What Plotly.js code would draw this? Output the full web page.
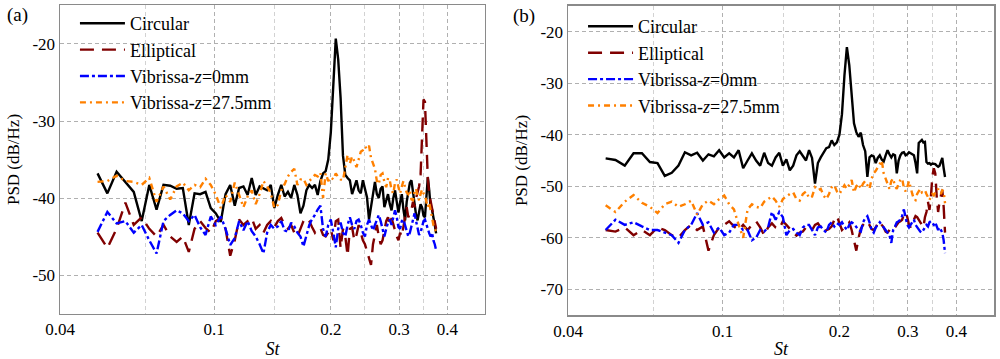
<!DOCTYPE html>
<html>
<head>
<meta charset="utf-8">
<script src="https://cdn.plot.ly/plotly-3.0.1.min.js"></script>
<style>html,body{margin:0;padding:0;background:#fff;}#chart{width:1000px;height:359px;}</style>
</head>
<body>
<div id="chart"></div>
<script>
// Strouhal number samples (shared by both panels)
const st = [
0.050,0.053,0.056,0.059,0.062,0.065,0.068,0.071,0.074,0.077,
0.080,0.083,0.086,0.089,0.092,0.095,0.098,0.101,0.104,0.107,
0.110,0.113,0.116,0.119,0.122,0.125,0.128,0.131,0.134,0.137,
0.140,0.143,0.146,0.149,0.152,0.155,0.158,0.161,0.164,0.167,
0.170,0.173,0.176,0.179,0.182,0.185,0.188,0.191,0.194,0.197,
0.200,0.203,0.206,0.209,0.212,0.215,0.218,0.221,0.224,0.227,
0.230,0.233,0.236,0.239,0.242,0.245,0.248,0.251,0.254,0.257,
0.260,0.263,0.266,0.269,0.272,0.275,0.278,0.281,0.284,0.287,
0.290,0.293,0.296,0.299,0.302,0.305,0.308,0.311,0.314,0.317,
0.320,0.323,0.326,0.329,0.332,0.335,0.338,0.341,0.344,0.347,
0.350,0.353,0.356,0.359,0.362,0.365,0.368,0.371,0.374];

const seriesNames = ['Circular','Elliptical','Vibrissa-<i>z</i>=0mm','Vibrissa-<i>z</i>=27.5mm'];

// Panel (a) PSD, dB/Hz
const circA = [
-36.8,-39.4,-36.6,-38.0,-39.2,-43.0,-38.3,-41.5,-38.3,-38.4,
-38.8,-38.7,-43.5,-39.4,-39.5,-39.2,-41.3,-42.0,-43.1,-39.5,
-38.3,-41.0,-38.7,-38.5,-39.6,-37.4,-39.6,-38.5,-38.8,-39.0,
-38.3,-41.3,-39.6,-38.3,-39.8,-39.2,-40.0,-38.3,-39.6,-42.0,
-41.0,-39.0,-38.3,-38.7,-38.3,-39.6,-37.8,-36.8,-36.5,-35.0,
-31.5,-24.5,-19.3,-22.0,-27.0,-34.5,-37.0,-37.4,-37.7,-39.5,
-38.5,-37.7,-39.0,-39.4,-37.7,-38.8,-39.9,-42.8,-41.0,-39.0,
-37.9,-39.5,-40.0,-38.8,-38.5,-41.2,-40.2,-39.5,-40.8,-41.6,
-40.0,-39.0,-40.5,-41.9,-40.5,-39.5,-41.5,-42.9,-40.5,-39.2,
-38.0,-37.7,-39.5,-41.2,-42.2,-42.9,-41.5,-40.8,-41.2,-42.3,
-42.5,-40.0,-37.3,-39.0,-41.2,-41.5,-42.8,-43.5,-44.6];
const ellA = [
-44.5,-46.5,-44.0,-40.6,-43.5,-42.5,-44.0,-45.0,-43.5,-45.0,
-45.7,-45.0,-47.0,-44.0,-43.0,-43.9,-44.5,-43.0,-42.6,-44.0,
-47.5,-45.5,-42.8,-43.5,-43.0,-42.6,-44.0,-43.5,-44.5,-43.5,
-43.0,-43.8,-43.0,-42.6,-43.5,-44.0,-43.5,-44.5,-45.0,-44.0,
-43.0,-42.6,-43.0,-43.8,-44.5,-44.0,-43.9,-44.8,-45.0,-44.5,
-44.0,-45.5,-43.0,-42.8,-46.5,-44.0,-45.0,-47.5,-44.0,-43.8,
-45.5,-44.8,-43.5,-44.5,-45.5,-46.0,-47.0,-47.8,-48.7,-46.0,
-44.5,-43.5,-45.0,-46.0,-45.5,-44.0,-43.0,-42.5,-43.5,-42.6,
-43.5,-44.5,-45.0,-45.5,-44.5,-45.0,-43.5,-42.0,-41.2,-42.5,
-42.0,-41.5,-40.5,-41.2,-40.0,-39.0,-38.5,-37.0,-31.5,-27.2,
-27.5,-32.0,-37.5,-39.5,-40.5,-41.0,-42.5,-43.0,-44.0];
const vib0A = [
-44.4,-41.8,-43.3,-43.0,-44.5,-43.5,-45.5,-47.2,-43.0,-42.2,
-41.6,-42.0,-43.0,-42.2,-43.8,-44.8,-42.4,-43.5,-42.4,-44.0,
-46.1,-45.2,-43.0,-44.2,-43.0,-44.3,-45.0,-46.0,-47.2,-44.5,
-43.5,-44.0,-43.7,-43.0,-44.2,-44.4,-43.2,-43.7,-44.5,-45.0,
-46.3,-45.0,-43.5,-42.7,-42.2,-41.5,-41.0,-44.0,-45.0,-43.5,
-42.8,-44.5,-46.4,-44.0,-43.2,-44.5,-45.0,-43.5,-42.5,-43.5,
-44.0,-43.0,-42.8,-43.5,-44.5,-45.0,-43.5,-42.8,-43.5,-44.2,
-43.5,-42.8,-42.2,-43.0,-44.0,-45.0,-44.0,-43.2,-42.8,-43.5,
-42.5,-41.6,-42.5,-43.8,-44.0,-43.0,-42.8,-43.5,-44.2,-45.0,
-44.5,-43.5,-42.5,-42.0,-43.0,-44.0,-44.8,-44.5,-43.8,-43.0,
-42.8,-43.5,-44.2,-44.6,-45.0,-44.5,-45.5,-46.0,-46.8];
const vib27A = [
-37.9,-37.8,-37.1,-37.8,-37.9,-38.3,-37.4,-40.5,-38.5,-40.2,
-38.5,-38.0,-39.0,-38.3,-38.6,-37.5,-38.3,-39.6,-41.3,-39.6,
-40.5,-38.0,-39.6,-41.2,-39.8,-39.0,-40.8,-39.5,-37.8,-38.5,
-39.4,-41.3,-40.9,-39.0,-38.2,-37.2,-36.6,-36.2,-38.3,-37.6,
-37.5,-38.3,-37.8,-37.4,-37.0,-37.2,-36.7,-40.0,-36.8,-37.8,
-37.3,-37.6,-36.8,-37.3,-37.6,-37.7,-35.8,-34.4,-35.5,-34.6,
-35.2,-36.0,-35.0,-34.0,-33.8,-33.3,-33.6,-33.2,-34.8,-35.5,
-36.2,-37.8,-38.2,-37.0,-36.8,-37.9,-38.6,-37.4,-37.7,-39.0,
-39.4,-38.0,-37.6,-38.6,-39.4,-38.5,-37.8,-38.6,-39.3,-39.5,
-39.0,-40.2,-40.3,-39.2,-38.8,-39.8,-40.3,-39.5,-38.9,-39.4,
-39.6,-40.5,-41.2,-40.6,-41.5,-42.5,-43.5,-43.8,-44.6];

// Panel (b) PSD, dB/Hz
const circB = [
-44.6,-44.9,-46.0,-43.6,-43.6,-45.3,-45.5,-48.0,-47.4,-46.0,
-43.4,-44.0,-43.5,-45.0,-43.8,-44.2,-43.0,-44.4,-43.6,-44.4,
-43.0,-46.5,-45.0,-43.6,-45.0,-46.0,-43.5,-45.5,-46.0,-44.4,
-43.5,-46.0,-44.8,-46.9,-46.0,-44.0,-43.2,-44.0,-45.0,-43.0,
-44.5,-49.5,-45.5,-44.4,-43.5,-42.6,-42.4,-41.1,-42.0,-41.5,
-40.0,-36.0,-28.5,-23.0,-26.5,-33.0,-37.8,-39.5,-40.4,-39.6,
-42.0,-43.2,-48.2,-44.4,-44.0,-44.2,-45.5,-44.5,-44.0,-44.8,
-45.2,-44.0,-43.0,-43.8,-44.4,-43.8,-44.0,-47.5,-45.0,-44.0,
-43.5,-43.4,-44.0,-43.8,-43.4,-43.6,-43.8,-44.0,-45.5,-47.5,
-41.6,-41.2,-41.0,-41.5,-41.4,-45.3,-45.6,-45.5,-45.8,-45.6,
-45.6,-45.7,-46.0,-46.2,-46.0,-45.0,-44.5,-46.5,-48.2];
const ellB = [
-58.5,-58.8,-58.0,-59.5,-58.5,-59.5,-58.0,-58.5,-59.5,-60.0,
-58.5,-57.5,-58.5,-57.8,-62.5,-59.5,-58.0,-57.5,-56.8,-57.8,
-58.5,-57.5,-58.5,-57.5,-56.8,-58.0,-59.5,-58.0,-57.2,-58.0,
-58.3,-56.8,-57.5,-58.3,-59.0,-59.6,-59.0,-58.8,-58.0,-58.2,
-58.5,-57.5,-57.2,-58.0,-59.0,-58.5,-58.3,-57.8,-56.5,-55.8,
-57.0,-58.5,-58.0,-57.5,-57.0,-58.5,-60.5,-62.5,-60.0,-58.3,
-57.5,-57.0,-56.8,-57.5,-58.3,-58.5,-58.0,-57.2,-56.8,-57.5,
-58.0,-58.8,-59.0,-58.5,-58.0,-58.3,-58.0,-57.5,-57.0,-56.8,
-56.5,-55.5,-55.0,-56.0,-57.5,-58.0,-57.0,-56.5,-55.8,-56.0,
-56.5,-57.0,-57.5,-58.0,-56.0,-55.0,-53.0,-54.6,-52.0,-48.0,
-46.5,-47.5,-52.0,-55.0,-53.0,-51.5,-50.7,-54.0,-59.0];
const vib0B = [
-58.5,-56.5,-57.5,-57.0,-57.8,-58.5,-58.5,-59.0,-59.5,-61.0,
-58.5,-57.5,-55.2,-57.5,-57.0,-59.0,-58.0,-59.5,-59.0,-57.5,
-57.5,-58.5,-58.5,-60.5,-60.0,-58.5,-58.8,-58.0,-55.0,-56.5,
-55.0,-56.0,-59.5,-58.5,-58.3,-59.0,-59.5,-58.0,-57.5,-57.5,
-58.5,-59.5,-58.0,-57.8,-58.5,-59.0,-57.5,-57.0,-57.8,-57.2,
-57.5,-57.0,-57.8,-58.5,-57.5,-57.0,-57.3,-58.0,-58.5,-58.8,
-57.0,-56.2,-55.8,-57.0,-58.5,-59.0,-58.0,-57.5,-57.0,-57.5,
-58.0,-58.5,-58.8,-59.5,-61.0,-58.5,-57.8,-57.0,-56.8,-56.5,
-55.8,-54.5,-56.0,-57.5,-58.0,-57.5,-56.8,-56.5,-57.5,-58.0,
-58.3,-58.8,-59.0,-58.5,-57.8,-57.5,-57.8,-57.0,-56.8,-57.2,
-57.5,-57.0,-57.8,-58.5,-58.0,-58.5,-59.0,-60.5,-63.0];
const vib27B = [
-53.7,-55.0,-53.0,-51.7,-53.2,-54.0,-55.2,-53.5,-53.0,-54.0,
-53.5,-52.8,-55.5,-53.5,-52.8,-53.5,-52.5,-51.8,-53.5,-54.5,
-57.5,-60.0,-54.5,-53.5,-54.0,-54.2,-53.0,-52.5,-52.0,-52.8,
-54.0,-52.5,-52.0,-51.5,-51.2,-52.5,-52.8,-51.5,-51.0,-52.3,
-52.0,-50.2,-50.8,-50.5,-51.8,-52.5,-51.5,-50.2,-49.8,-51.0,
-51.5,-50.5,-49.8,-50.5,-49.5,-48.8,-51.2,-50.0,-49.5,-50.5,
-49.5,-49.0,-49.8,-50.5,-48.5,-47.5,-47.0,-46.3,-45.5,-45.0,
-47.5,-48.5,-49.5,-50.5,-49.0,-48.5,-50.0,-50.5,-49.5,-48.8,
-48.5,-50.3,-51.0,-50.2,-49.0,-50.5,-51.5,-52.5,-52.7,-51.5,
-51.0,-50.5,-51.2,-51.0,-50.8,-51.5,-52.0,-52.7,-52.0,-51.5,
-51.8,-51.2,-51.0,-50.5,-51.0,-51.5,-50.8,-51.0,-53.3];

// Axis tick values
const xTickVals = [0.04, 0.1, 0.2, 0.3, 0.4];
const xTickText = ['0.04', '0.1', '0.2', '0.3', '0.4'];
const xMinorVals = [0.0665, 0.1435, 0.2445, 0.347];
const yTickValsA = [-50, -40, -30, -20];
const yTickValsB = [-70, -60, -50, -40, -30, -20];

const styles = [
  {color: '#000000', dash: 'solid'},
  {color: '#800000', dash: '14px,8px'},
  {color: '#0000ff', dash: '9px,3px,3px,3px'},
  {color: '#ff8000', dash: '6px,4px,2px,4px'}
];

function mk(y, i, panel) {
  return {
    x: st, y: y, type: 'scatter', mode: 'lines', name: seriesNames[i],
    xaxis: panel === 'a' ? 'x' : 'x2', yaxis: panel === 'a' ? 'y' : 'y2',
    legend: panel === 'a' ? 'legend' : 'legend2',
    line: {color: styles[i].color, dash: styles[i].dash, width: 2.4},
    hoverinfo: 'skip'
  };
}

const data = [
  mk(circA, 0, 'a'), mk(ellA, 1, 'a'), mk(vib0A, 2, 'a'), mk(vib27A, 3, 'a'),
  mk(circB, 0, 'b'), mk(ellB, 1, 'b'), mk(vib0B, 2, 'b'), mk(vib27B, 3, 'b')
];

const FONT = 'Liberation Serif';
function xAxis(domain, anchor) {
  return {
    type: 'log', domain: domain, anchor: anchor,
    range: [Math.log10(0.04), Math.log10(0.5)],
    tickmode: 'array', tickvals: xTickVals, ticktext: xTickText, tickangle: 0,
    showgrid: true, gridcolor: '#b0b0b0', griddash: '4px,3px', gridwidth: 1,
    minor: {tickmode: 'array', tickvals: xMinorVals, showgrid: true, gridcolor: '#d2d2d2', griddash: '4px,3px', gridwidth: 1, ticks: ''},
    showline: true, mirror: true, linecolor: '#8a8a8a', linewidth: 1.5,
    ticks: '', zeroline: false, automargin: false,
    tickfont: {family: FONT, size: 17, color: '#000'},
    title: {text: '<i>St</i>', font: {family: FONT, size: 18, color: '#000'}, standoff: 6}
  };
}
function yAxis(domain, anchor, range, tv) {
  return {
    domain: domain, anchor: anchor, range: range,
    tickmode: 'array', tickvals: tv, ticktext: tv.map(v => String(v)),
    showgrid: true, gridcolor: '#b0b0b0', griddash: '4px,3px', gridwidth: 1,
    showline: true, mirror: true, linecolor: '#8a8a8a', linewidth: 1.5,
    ticks: '', zeroline: false, automargin: false,
    tickfont: {family: FONT, size: 17, color: '#000'},
    title: {text: 'PSD (dB/Hz)', font: {family: FONT, size: 17, color: '#000'}, standoff: 8}
  };
}

const legendBase = {
  xref: 'paper', yref: 'paper', xanchor: 'left', yanchor: 'top',
  bgcolor: 'rgba(0,0,0,0)', borderwidth: 0,
  font: {family: FONT, size: 18, color: '#000'}, itemwidth: 45,
  itemclick: false, itemdoubleclick: false
};

const layout = {
  width: 1000, height: 359,
  paper_bgcolor: '#ffffff', plot_bgcolor: '#ffffff',
  font: {family: FONT, size: 17, color: '#000'},
  margin: {l: 60, r: 6, t: 5, b: 44, autoexpand: false},
  showlegend: true,
  xaxis: xAxis([0, 0.455], 'y'),
  yaxis: yAxis([0.0048, 0.9984], 'x', [-55, -15], yTickValsA),
  xaxis2: xAxis([0.5439, 1], 'y2'),
  yaxis2: yAxis([0, 0.9968], 'x2', [-75, -15], yTickValsB),
  legend: Object.assign({}, legendBase, {x: 0.016, y: 1.0}),
  legend2: Object.assign({}, legendBase, {x: 0.56, y: 0.99}),
  annotations: [
    {text: '(a)', xref: 'paper', yref: 'paper', x: -0.046, y: 0.968, xanchor: 'center', yanchor: 'middle', showarrow: false, font: {family: FONT, size: 19, color: '#000'}},
    {text: '(b)', xref: 'paper', yref: 'paper', x: 0.497, y: 0.965, xanchor: 'center', yanchor: 'middle', showarrow: false, font: {family: FONT, size: 19, color: '#000'}}
  ]
};

Plotly.newPlot('chart', data, layout, {displayModeBar: false, staticPlot: true});
</script>
</body>
</html>
